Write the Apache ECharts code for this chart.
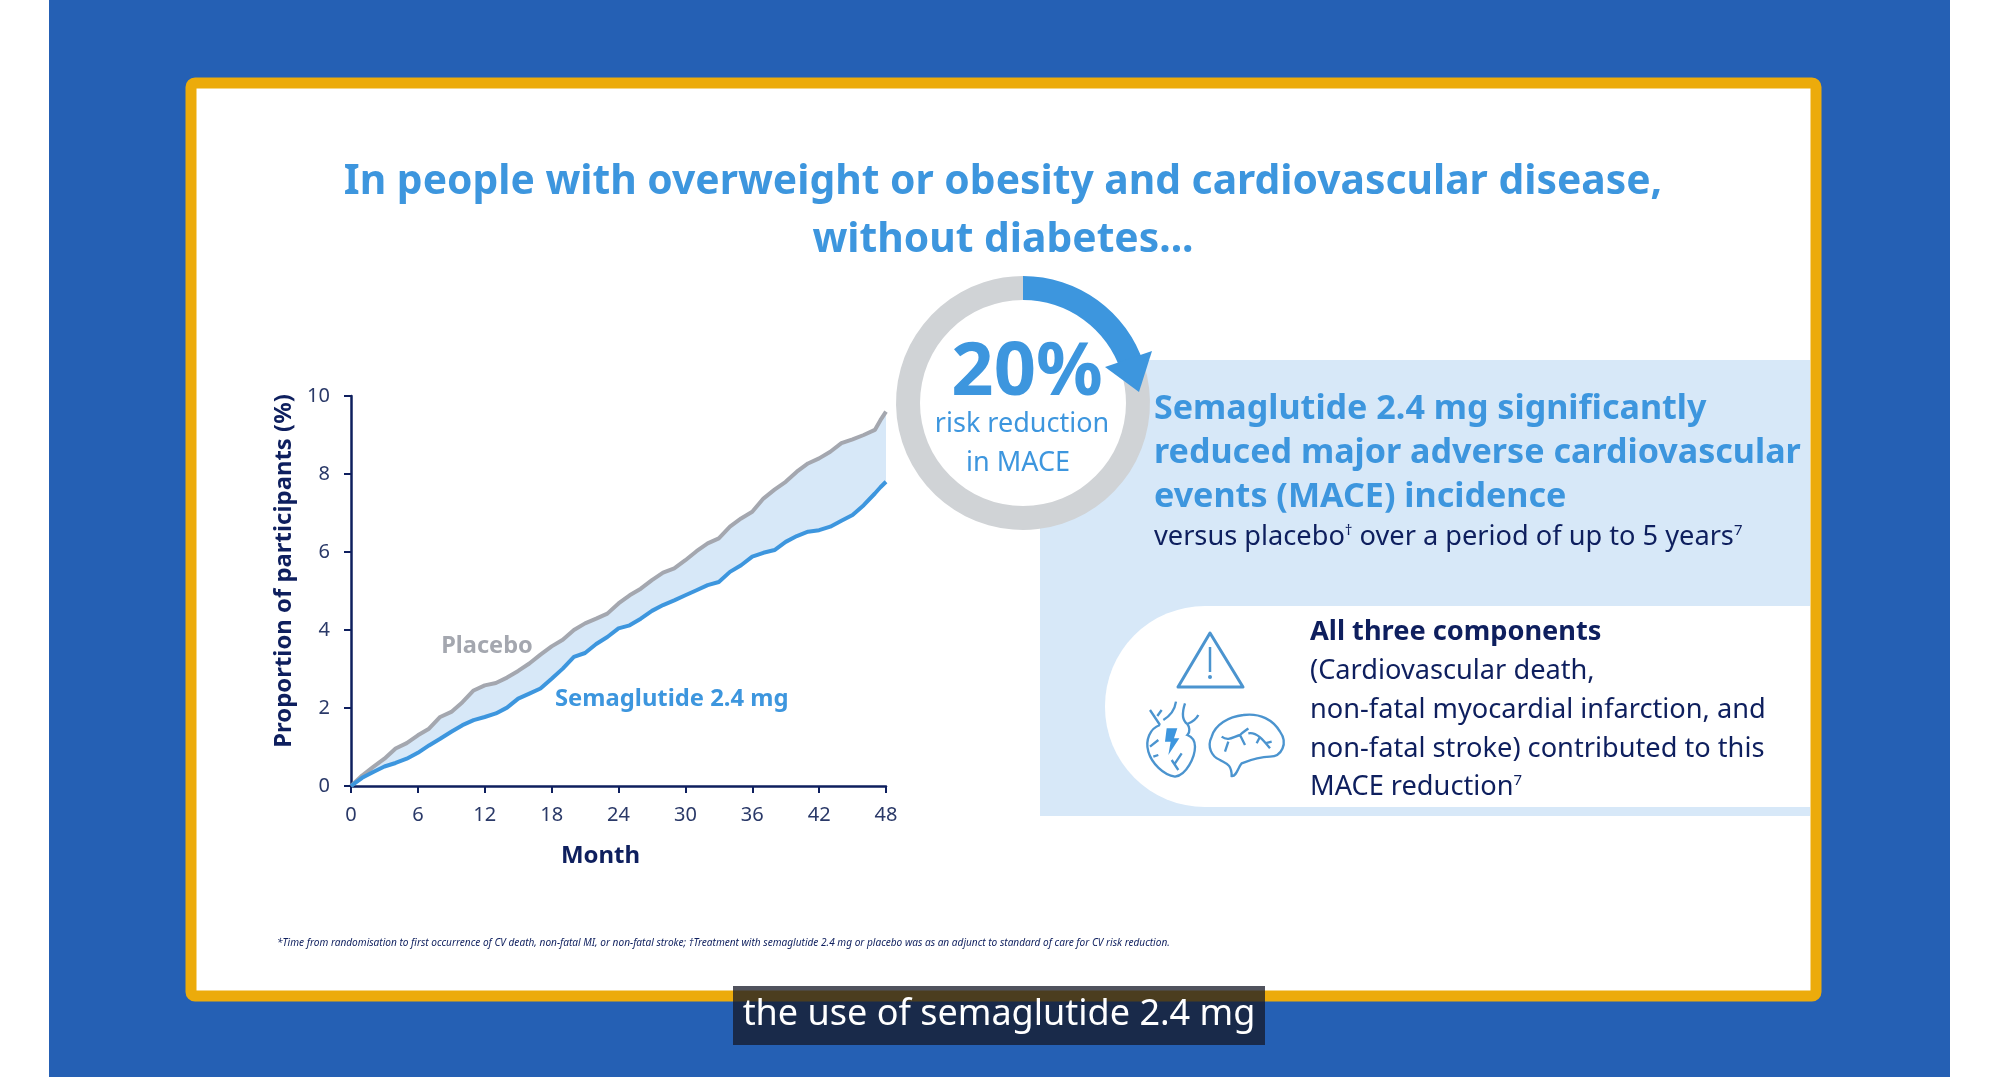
<!DOCTYPE html>
<html><head><meta charset="utf-8">
<style>html,body{margin:0;padding:0;background:#fff}#c{width:2000px;height:1077px}</style>
<script src="https://cdn.jsdelivr.net/npm/echarts@6/dist/echarts.min.js"></script>
</head><body><div id="c"></div>
<script>
const months = [0,1,2,3,4,5,6,7,8,9,10,11,12,13,14,15,16,17,18,19,20,21,22,23,24,25,26,27,28,29,30,31,32,33,34,35,36,37,38,39,40,41,42,43,44,45,46,47,47.5,48];
const placebo = [0,0.27,0.49,0.70,0.96,1.10,1.30,1.47,1.77,1.90,2.15,2.45,2.58,2.64,2.78,2.95,3.14,3.37,3.58,3.75,4.00,4.17,4.29,4.42,4.68,4.89,5.06,5.28,5.47,5.58,5.79,6.02,6.22,6.35,6.65,6.86,7.03,7.37,7.60,7.80,8.06,8.27,8.40,8.57,8.79,8.89,9.00,9.13,9.38,9.60];
const semaglutide = [0,0.21,0.36,0.50,0.59,0.70,0.85,1.04,1.21,1.39,1.56,1.69,1.77,1.86,2.01,2.24,2.37,2.50,2.75,3.01,3.31,3.41,3.64,3.82,4.04,4.12,4.29,4.49,4.64,4.76,4.89,5.02,5.15,5.23,5.49,5.66,5.88,5.98,6.05,6.26,6.41,6.52,6.56,6.65,6.80,6.95,7.20,7.50,7.66,7.80];
const ringValues = [20, 80];
const titleLines = ["In people with overweight or obesity and cardiovascular disease,", "without diabetes..."];
const headingLines = ["Semaglutide 2.4 mg significantly", "reduced major adverse cardiovascular", "events (MACE) incidence"];
const componentLines = ["(Cardiovascular death,", "non-fatal myocardial infarction, and", "non-fatal stroke) contributed to this"];
const footnote = "*Time from randomisation to first occurrence of CV death, non-fatal MI, or non-fatal stroke; \u2020Treatment with semaglutide 2.4 mg or placebo was as an adjunct to standard of care for CV risk reduction.";

const NAVY='#0e1f5e', BLUE='#3d96de', GREY='#a4a7af', PANEL='#d7e8f8', FONT='"Noto Sans"';
const ICON='#4b94cf';
echarts.graphic.registerShape('heartIcon', echarts.graphic.extendPath('M180 375 C150 385 135 420 145 455 C155 490 190 525 225 530 C260 525 285 470 285 440 C285 420 275 410 262 405 C272 395 268 380 262 372 C280 365 290 355 295 345 M262 372 C245 360 245 340 255 310 M190 360 C215 345 225 325 228 305 M180 375 L150 330 M172 348 L185 330 M150 440 L175 420 M160 470 L175 465 M215 480 L235 510 M225 490 L245 460',{}));
echarts.graphic.registerShape('boltIcon', echarts.graphic.extendPath('M200 385 L232 385 L222 415 L238 415 L205 465 L212 425 L195 425 Z',{}));
echarts.graphic.registerShape('brainIcon', echarts.graphic.extendPath('M395 528 C395 490 375 490 360 480 C335 470 320 440 335 410 C345 375 385 350 430 345 C480 338 520 360 540 395 C565 430 545 470 510 470 C480 470 450 480 425 490 C415 500 410 530 395 528 Z M365 410 C385 425 400 410 420 405 C430 395 440 390 445 385 M420 405 L435 435 M385 425 L375 455 M445 400 C470 395 490 420 510 445 M480 410 L470 430 M495 430 L515 425',{}));
const icon=(type,style)=>({type,z:50,x:1100,y:600,scaleX:1/3,scaleY:1/3,silent:true,shape:{},style});

const txt=(x,y,text,size,color,weight,align,extra)=>({type:'text',x,y,z:100,silent:true,style:Object.assign({text,fontFamily:FONT,fontSize:size,fill:color,fontWeight:weight||'normal',align:align||'left',verticalAlign:'middle'},extra||{})});
const sup={rich:{s:{fontSize:15,fontFamily:FONT,fill:NAVY,verticalAlign:'top',padding:[0,0,10,0]}}};

const graphic=[
 {type:'rect',z:-10,shape:{x:49,y:0,width:1901,height:1077},style:{fill:'#2560b4'}},
 {type:'rect',z:-9,shape:{x:191,y:83,width:1625,height:913,r:4},style:{fill:'#fff',stroke:'#ecab0b',lineWidth:11}},
 {type:'rect',z:-8,shape:{x:1040,y:360,width:770,height:456},style:{fill:PANEL}},
 {type:'rect',z:-7,shape:{x:1105,y:606,width:705,height:201,r:[100,0,0,100]},style:{fill:'#fff'}},
 {type:'circle',z:-6,shape:{cx:1023,cy:403,r:110},style:{fill:'#fff'}},
 {type:'polygon',z:50,shape:{points:[[1105,367],[1152,351],[1139,392]]},style:{fill:BLUE}},
 // icons
 {type:'polygon',z:50,shape:{points:[[1210,633],[1243,687],[1178,687]]},style:{fill:'none',stroke:ICON,lineWidth:3,lineJoin:'round'}},
 {type:'line',z:50,shape:{x1:1210,y1:647,x2:1210,y2:672},style:{stroke:ICON,lineWidth:2.5}},
 {type:'circle',z:50,shape:{cx:1210,cy:677,r:2},style:{fill:ICON}},
 icon('heartIcon',{fill:'none',stroke:ICON,lineWidth:7}),
 icon('boltIcon',{fill:BLUE}),
 icon('brainIcon',{fill:'none',stroke:ICON,lineWidth:7}),
 // title
 txt(1003,182,titleLines[0],40.8,BLUE,'bold','center'),
 txt(1003,240,titleLines[1],40.8,BLUE,'bold','center'),
 // ring text
 txt(1027,374,'20%',74,BLUE,'bold','center'),
 txt(1022,424,'risk reduction',27,BLUE,'normal','center'),
 txt(1018,463,'in MACE',27,BLUE,'normal','center'),
 // panel
 txt(1154,409,headingLines[0],34.1,BLUE,'bold'),
 txt(1154,453,headingLines[1],34.1,BLUE,'bold'),
 txt(1154,497,headingLines[2],34.1,BLUE,'bold'),
 txt(1154,537,'versus placebo{s|\u2020} over a period of up to 5 years{s|7}',27.2,NAVY,'normal','left',sup),
 txt(1310,632,'All three components',27.2,NAVY,'bold'),
 txt(1310,671,componentLines[0],27.2,NAVY),
 txt(1310,710,componentLines[1],27.2,NAVY),
 txt(1310,749,componentLines[2],27.2,NAVY),
 txt(1310,787,'MACE reduction{s|7}',27.2,NAVY,'normal','left',sup),
 // series labels
 txt(487,646,'Placebo',23.6,GREY,'bold','center'),
 txt(555,699,'Semaglutide 2.4 mg',23.8,BLUE,'bold'),
 // footnote
 txt(277,943,footnote,10.1,NAVY,'normal','left',{fontStyle:'italic'}),
 // caption
 {type:'rect',z:90,shape:{x:733,y:986,width:532,height:59},style:{fill:'#161827',opacity:0.75}},
 txt(999,1014.5,'the use of semaglutide 2.4 mg',36,'#ffffff','normal','center')
];

const axisLine={show:true,lineStyle:{color:NAVY,width:2.5}};
const axisTick={show:true,length:7,lineStyle:{color:NAVY,width:2}};
const axisLabel={fontFamily:FONT,fontSize:20,color:'#2a3968'};

const renderBand=(params,api)=>{
  const upper=months.map((m,i)=>api.coord([m,placebo[i]]));
  const lower=months.map((m,i)=>api.coord([m,semaglutide[i]])).reverse();
  return {type:'polygon',shape:{points:upper.concat(lower)},style:{fill:PANEL}};
};

const chart=echarts.init(document.getElementById('c'));
chart.setOption({
 animation:false,
 backgroundColor:'#fff',
 graphic,
 grid:{left:351,top:396,width:535,height:390,containLabel:false},
 xAxis:{type:'value',min:0,max:48,interval:6,splitLine:{show:false},axisLine,axisTick,
   axisLabel:Object.assign({margin:19},axisLabel),
   name:'Month',nameLocation:'middle',nameGap:58,
   nameTextStyle:{fontFamily:FONT,fontSize:24,fontWeight:'bold',color:NAVY,padding:[0,36,0,0]}},
 yAxis:{type:'value',min:0,max:10,interval:2,splitLine:{show:false},axisLine,axisTick,
   axisLabel:Object.assign({margin:21},axisLabel),
   name:'Proportion of participants (%)',nameLocation:'middle',nameGap:55,nameRotate:90,
   nameTextStyle:{fontFamily:FONT,fontSize:23.9,fontWeight:'bold',color:NAVY,padding:[0,0,0,40]}},
 series:[
  {type:'custom',silent:true,z:2,renderItem:renderBand,data:[[0,0]]},
  {name:'Placebo',type:'line',symbol:'none',z:4,lineStyle:{color:GREY,width:4},data:months.map((m,i)=>[m,placebo[i]])},
  {name:'Semaglutide 2.4 mg',type:'line',symbol:'none',z:5,lineStyle:{color:BLUE,width:4},data:months.map((m,i)=>[m,semaglutide[i]])},
  {type:'pie',center:[1023,403],radius:[103,127],startAngle:90,silent:true,z:6,label:{show:false},labelLine:{show:false},
   itemStyle:{borderWidth:0},
   data:[{value:ringValues[0],itemStyle:{color:BLUE}},{value:ringValues[1],itemStyle:{color:'#d0d3d6'}}]}
 ]
});
</script></body></html>
